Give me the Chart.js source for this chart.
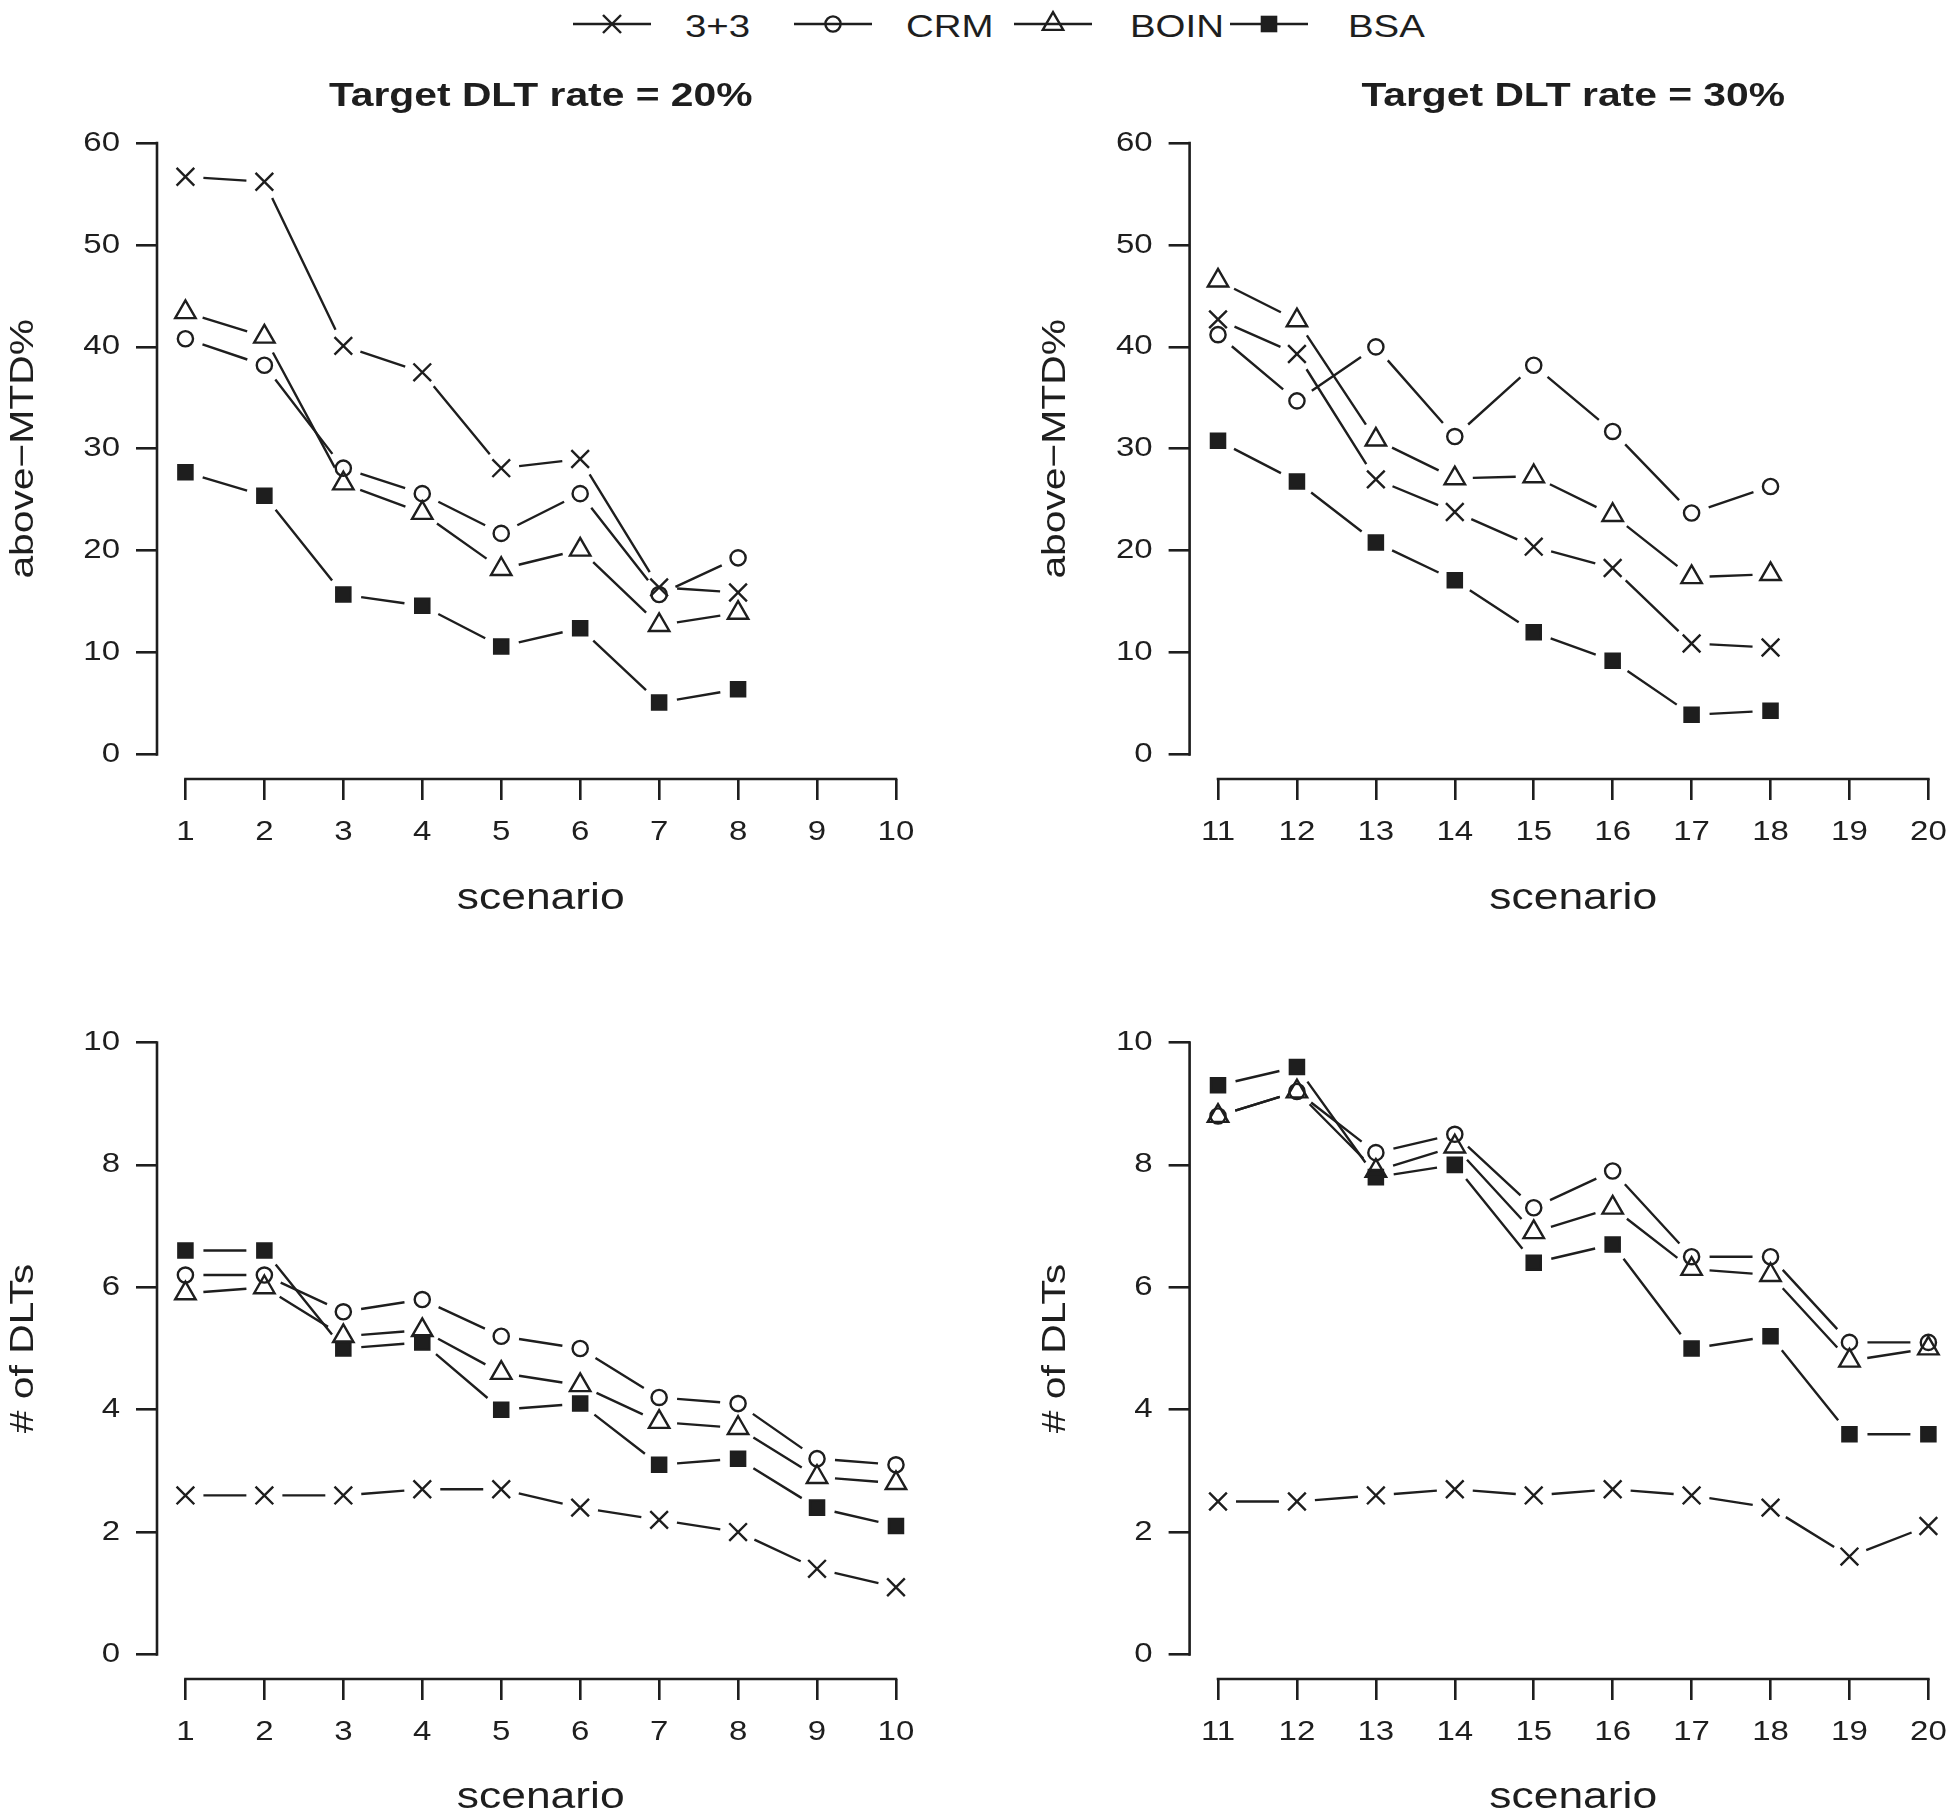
<!DOCTYPE html>
<html>
<head>
<meta charset="utf-8">
<script src="https://cdn.jsdelivr.net/npm/chart.js@4.4.1/dist/chart.umd.min.js"></script>
<style>
  html, body { margin: 0; padding: 0; background: #fff; }
  body { width: 1952px; height: 1812px; position: relative; overflow: hidden; font-family: "Liberation Sans", Arial, sans-serif; }
  canvas { position: absolute; }
  .leg-text { position: absolute; top: 9px; font-size: 32px; line-height: 34px; color: #1e1e1e; transform: scaleX(1.2); transform-origin: 0 50%; white-space: nowrap; }
  .leg-sym { position: absolute; top: 0; }
</style>
</head>
<body>
<div id="legend"></div>
<canvas id="mtd20" width="980" height="960" style="left:0;top:0"></canvas>
<canvas id="mtd30" width="1000" height="960" style="left:980px;top:0"></canvas>
<canvas id="dlt20" width="980" height="900" style="left:0;top:940px"></canvas>
<canvas id="dlt30" width="1000" height="900" style="left:980px;top:940px"></canvas>
<script>
const methods = ['3+3', 'CRM', 'BOIN', 'BSA'];

// scenarios
const scen20Mtd = [1, 2, 3, 4, 5, 6, 7, 8];
const scen30Mtd = [11, 12, 13, 14, 15, 16, 17, 18];
const scen20Dlt = [1, 2, 3, 4, 5, 6, 7, 8, 9, 10];
const scen30Dlt = [11, 12, 13, 14, 15, 16, 17, 18, 19, 20];

// tick labels
const xTicks20 = [1, 2, 3, 4, 5, 6, 7, 8, 9, 10];
const xTicks30 = [11, 12, 13, 14, 15, 16, 17, 18, 19, 20];
const mtdTicks = [0, 10, 20, 30, 40, 50, 60];
const dltTicks = [0, 2, 4, 6, 8, 10];

// above-MTD%, target 20%
const mtd20_33 = [56.7, 56.2, 40.1, 37.5, 28.1, 29.0, 16.4, 15.9];
const mtd20_crm = [40.8, 38.2, 28.1, 25.6, 21.7, 25.6, 15.7, 19.3];
const mtd20_boin = [43.4, 41.0, 26.6, 23.7, 18.2, 20.1, 12.7, 13.9];
const mtd20_bsa = [27.7, 25.4, 15.7, 14.6, 10.6, 12.4, 5.1, 6.4];

// above-MTD%, target 30%
const mtd30_33 = [42.7, 39.3, 27.0, 23.8, 20.4, 18.3, 10.9, 10.5];
const mtd30_crm = [41.2, 34.7, 40.0, 31.2, 38.2, 31.7, 23.7, 26.3];
const mtd30_boin = [46.5, 42.6, 30.9, 27.1, 27.3, 23.5, 17.4, 17.7];
const mtd30_bsa = [30.8, 26.8, 20.8, 17.1, 12.0, 9.2, 3.9, 4.3];

// # of DLTs, target 20%
const dlt20_33 = [2.6, 2.6, 2.6, 2.7, 2.7, 2.4, 2.2, 2.0, 1.4, 1.1];
const dlt20_crm = [6.2, 6.2, 5.6, 5.8, 5.2, 5.0, 4.2, 4.1, 3.2, 3.1];
const dlt20_boin = [5.9, 6.0, 5.2, 5.3, 4.6, 4.4, 3.8, 3.7, 2.9, 2.8];
const dlt20_bsa = [6.6, 6.6, 5.0, 5.1, 4.0, 4.1, 3.1, 3.2, 2.4, 2.1];

// # of DLTs, target 30%
const dlt30_33 = [2.5, 2.5, 2.6, 2.7, 2.6, 2.7, 2.6, 2.4, 1.6, 2.1];
const dlt30_crm = [8.8, 9.2, 8.2, 8.5, 7.3, 7.9, 6.5, 6.5, 5.1, 5.1];
const dlt30_boin = [8.8, 9.2, 7.9, 8.3, 6.9, 7.3, 6.3, 6.2, 4.8, 5.0];
const dlt30_bsa = [9.3, 9.6, 7.8, 8.0, 6.4, 6.7, 5.0, 5.2, 3.6, 3.6];

const INK = '#1e1e1e';
const FONT = '"Liberation Sans", Arial, sans-serif';
const GAP = 18;          // type="b" gap around each point
const TEXT_STRETCH = 1.2; // the original lettering is wider than Helvetica

Chart.defaults.font.family = FONT;
Chart.defaults.color = INK;

const markerStyles = [
    { pointStyle: 'crossRot', pointRadius: 12.5, pointBackgroundColor: 'rgba(0,0,0,0)' },
    { pointStyle: 'circle', pointRadius: 7.6, pointBackgroundColor: 'rgba(0,0,0,0)' },
    { pointStyle: 'triangle', pointRadius: 11.8, pointBackgroundColor: 'rgba(0,0,0,0)' },
    { pointStyle: 'rect', pointRadius: 10, pointBackgroundColor: INK }
];

// widen every piece of canvas text a little
const stretchText = {
    id: 'stretchText',
    beforeInit(chart) {
        const ctx = chart.ctx;
        const fill = ctx.fillText.bind(ctx);
        ctx.fillText = function(text, x, y) {
            ctx.save();
            ctx.translate(x, y);
            ctx.scale(TEXT_STRETCH, 1);
            fill(text, 0, 0);
            ctx.restore();
        };
    }
};

// lines between points, broken around each marker
const gapLines = {
    id: 'gapLines',
    beforeDatasetsDraw(chart) {
        const ctx = chart.ctx;
        ctx.save();
        ctx.strokeStyle = INK;
        ctx.lineWidth = 2.4;
        chart.data.datasets.forEach((ds, i) => {
            const pts = chart.getDatasetMeta(i).data;
            ctx.beginPath();
            for (let k = 1; k < pts.length; k++) {
                const a = pts[k - 1], b = pts[k];
                const dx = b.x - a.x, dy = b.y - a.y;
                const len = Math.hypot(dx, dy);
                if (len <= 2 * GAP) continue;
                const ux = dx / len, uy = dy / len;
                ctx.moveTo(a.x + ux * GAP, a.y + uy * GAP);
                ctx.lineTo(b.x - ux * GAP, b.y - uy * GAP);
            }
            ctx.stroke();
        });
        ctx.restore();
    }
};

// R style axes: line only from first to last tick
const axisLines = {
    id: 'axisLines',
    afterDraw(chart) {
        const { ctx, chartArea } = chart;
        const x = chart.scales.x, y = chart.scales.y;
        const xt = x.ticks, yt = y.ticks;
        ctx.save();
        ctx.strokeStyle = INK;
        ctx.lineWidth = 2.6;
        ctx.lineCap = 'square';
        ctx.beginPath();
        ctx.moveTo(x.getPixelForValue(xt[0].value), chartArea.bottom);
        ctx.lineTo(x.getPixelForValue(xt[xt.length - 1].value), chartArea.bottom);
        ctx.moveTo(chartArea.left, y.getPixelForValue(yt[0].value));
        ctx.lineTo(chartArea.left, y.getPixelForValue(yt[yt.length - 1].value));
        ctx.stroke();
        ctx.restore();
    }
};

function axisGrid(len) {
    return { display: true, drawOnChartArea: false, drawTicks: true, tickLength: len, color: INK, lineWidth: 2.6 };
}

function drawPanel(id, cfg) {
    const datasets = cfg.series.map((vals, i) => Object.assign({
        label: methods[i],
        data: vals.map((v, k) => ({ x: cfg.scen[k], y: v })),
        showLine: false,
        borderColor: INK,
        pointBorderColor: INK,
        pointBorderWidth: 2.4,
        pointHoverRadius: markerStyles[i].pointRadius
    }, markerStyles[i]));

    return new Chart(document.getElementById(id), {
        type: 'line',
        data: { datasets: datasets },
        plugins: [stretchText, gapLines, axisLines],
        options: {
            responsive: false,
            animation: false,
            devicePixelRatio: 1,
            events: [],
            layout: { padding: { top: cfg.padTop, right: cfg.padRight, left: 0, bottom: 0 } },
            plugins: {
                legend: { display: false },
                tooltip: { enabled: false },
                title: {
                    display: !!cfg.title,
                    text: cfg.title,
                    fullSize: false,
                    color: INK,
                    font: { size: 34, weight: 'bold' },
                    padding: { top: 0, bottom: 1.2 }
                }
            },
            scales: {
                x: {
                    type: 'linear',
                    min: cfg.xMin,
                    max: cfg.xMax,
                    afterBuildTicks: s => { s.ticks = cfg.xTicks.map(v => ({ value: v })); },
                    afterFit: s => { s.height = cfg.xHeight; },
                    grid: axisGrid(21),
                    border: { display: false },
                    ticks: { autoSkip: false, maxRotation: 0, padding: 16, color: INK, font: { size: 27.5 } },
                    title: { display: true, text: 'scenario', color: INK, font: { size: 37 }, padding: { top: 0, bottom: cfg.xTitlePad } }
                },
                y: {
                    type: 'linear',
                    min: cfg.yMin,
                    max: cfg.yMax,
                    afterBuildTicks: s => { s.ticks = cfg.yTicks.map(v => ({ value: v })); },
                    afterFit: s => { s.width = cfg.yWidth; },
                    grid: axisGrid(21),
                    border: { display: false },
                    ticks: { padding: 16, color: INK, font: { size: 27.5 } },
                    title: { display: true, text: cfg.yTitle, color: INK, font: { size: 34 }, padding: { top: cfg.yTitlePad, bottom: 0 } }
                }
            }
        }
    });
}

const leftCol = { padRight: 55.6, yWidth: 157, yTitlePad: 3.3 };
const rightCol = { padRight: 23.2, yWidth: 209.6, yTitlePad: 55.2 };
const topRow = { padTop: 76.6, xHeight: 181, xTitlePad: 38.8, yMin: -2.4, yMax: 62.4, yTicks: mtdTicks, yTitle: 'above\u2212MTD%' };
const bottomRow = { padTop: 78, xHeight: 161, xTitlePad: 19.8, yMin: -0.4, yMax: 10.4, yTicks: dltTicks, yTitle: '# of DLTs' };

drawPanel('mtd20', Object.assign({}, leftCol, topRow, {
    title: 'Target DLT rate = 20%', scen: scen20Mtd, xMin: 0.64, xMax: 10.36, xTicks: xTicks20,
    series: [mtd20_33, mtd20_crm, mtd20_boin, mtd20_bsa]
}));
drawPanel('mtd30', Object.assign({}, rightCol, topRow, {
    title: 'Target DLT rate = 30%', scen: scen30Mtd, xMin: 10.64, xMax: 20.36, xTicks: xTicks30,
    series: [mtd30_33, mtd30_crm, mtd30_boin, mtd30_bsa]
}));
drawPanel('dlt20', Object.assign({}, leftCol, bottomRow, {
    title: '', scen: scen20Dlt, xMin: 0.64, xMax: 10.36, xTicks: xTicks20,
    series: [dlt20_33, dlt20_crm, dlt20_boin, dlt20_bsa]
}));
drawPanel('dlt30', Object.assign({}, rightCol, bottomRow, {
    title: '', scen: scen30Dlt, xMin: 10.64, xMax: 20.36, xTicks: xTicks30,
    series: [dlt30_33, dlt30_crm, dlt30_boin, dlt30_bsa]
}));

// legend across the top
const legendLineX = [573, 794, 1014, 1230];
const legendTextX = [685, 906, 1130, 1348];
const legendSymbols = [
    '<line x1="31" y1="15" x2="49" y2="33"/><line x1="31" y1="33" x2="49" y2="15"/>',
    '<circle cx="40" cy="24" r="7.6" fill="none"/>',
    '<polygon points="40,12.2 50.2,29.9 29.8,29.9" fill="none"/>',
    '<rect x="32.9" y="16.9" width="14.2" height="14.2" fill="' + INK + '"/>'
];
const legend = document.getElementById('legend');
methods.forEach((name, i) => {
    const svg = '<svg class="leg-sym" width="82" height="48" style="left:' + (legendLineX[i] - 1) + 'px">' +
        '<g stroke="' + INK + '" stroke-width="2.4">' +
        '<line x1="1" y1="24" x2="79" y2="24"/>' + legendSymbols[i] + '</g></svg>';
    legend.insertAdjacentHTML('beforeend', svg +
        '<span class="leg-text" style="left:' + legendTextX[i] + 'px">' + name + '</span>');
});
</script>
</body>
</html>
